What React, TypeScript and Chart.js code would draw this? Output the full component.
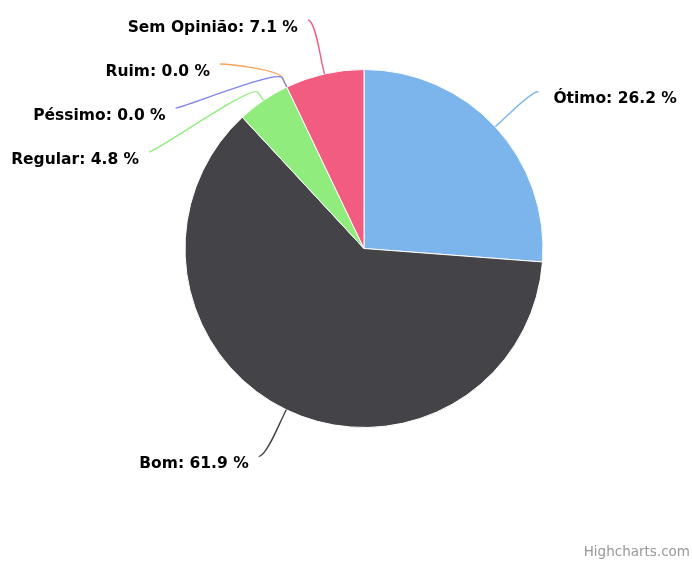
import React, { useEffect, useRef } from "react";
import { Chart, registerables } from "chart.js";

Chart.register(...registerables);

// ---- data ----
const categories = ["Ótimo", "Bom", "Regular", "Ruim", "Péssimo", "Sem Opinião"];
const percentValues = [26.2, 61.9, 4.8, 0.0, 0.0, 7.1];
const sliceColors = ["#7cb5ec", "#434348", "#90ed7d", "#f7a35c", "#8085e9", "#f15c80"];
const creditText = "Highcharts.com";

// ---- label layout settings ----
const LABEL_DISTANCE = 52;
const LABEL_PADDING = 5;
const CONNECTOR_OFFSET = 10;
const SOFT_CONTROL = 7;
const LABEL_SPACING = 44;
const LABEL_TOP = 20;
const LABEL_FONT_SIZE = 15.5;
const LABEL_FONT = `bold ${LABEL_FONT_SIZE}px "DejaVu Sans"`;

function distribute(targets: number[], gap: number, minY: number, maxY: number): number[] {
  type Cl = { first: number; n: number; sum: number };
  const clusters: Cl[] = targets.map((t, i) => ({ first: i, n: 1, sum: t }));
  const pos = (c: Cl) => Math.min(Math.max(c.sum / c.n, minY), maxY - (c.n - 1) * gap);
  let merged = true;
  while (merged) {
    merged = false;
    for (let k = 0; k < clusters.length - 1; k++) {
      const a = clusters[k];
      const b = clusters[k + 1];
      if (pos(a) + a.n * gap > pos(b)) {
        a.sum = a.sum + b.sum - b.n * a.n * gap;
        a.n += b.n;
        clusters.splice(k + 1, 1);
        merged = true;
        break;
      }
    }
  }
  const out: number[] = [];
  clusters.forEach((c) => {
    const p = pos(c);
    for (let j = 0; j < c.n; j++) out.push(p + j * gap);
  });
  return out;
}

const pieLabelsPlugin = {
  id: "pieLabels",
  afterDatasetsDraw(chart: any) {
    const ctx = chart.ctx as CanvasRenderingContext2D;
    const meta = chart.getDatasetMeta(0);
    const items = meta.data.map((arc: any, i: number) => {
      const p = arc.getProps(["x", "y", "startAngle", "endAngle", "outerRadius"], true);
      const mid = (p.startAngle + p.endAngle) / 2;
      const cos = Math.cos(mid);
      const sin = Math.sin(mid);
      const ld = p.outerRadius + LABEL_DISTANCE;
      return {
        i,
        cx: p.x,
        cy: p.y,
        r: p.outerRadius,
        cos,
        sin,
        left: cos < 0,
        ld,
        naturalY: p.y + ld * sin,
        y: 0,
      };
    });

    for (const side of [true, false]) {
      const group = items
        .filter((it: any) => it.left === side)
        .sort((a: any, b: any) => a.naturalY - b.naturalY || a.i - b.i);
      const ys = distribute(
        group.map((g: any) => g.naturalY),
        LABEL_SPACING,
        LABEL_TOP,
        chart.height - LABEL_TOP
      );
      group.forEach((g: any, k: number) => (g.y = ys[k]));
    }

    ctx.save();
    items.forEach((it: any) => {
      const yForX = it.y <= LABEL_TOP + 1 ? it.naturalY : it.y;
      const s = Math.max(-1, Math.min(1, (yForX - it.cy) / it.ld));
      const dx = Math.cos(Math.asin(s)) * it.ld + LABEL_PADDING;
      const endX = it.cx + (it.left ? -dx : dx);
      const endY = it.y;
      const touchX = it.cx + it.r * it.cos;
      const touchY = it.cy + it.r * it.sin;
      const breakX = it.cx + (it.r + CONNECTOR_OFFSET) * it.cos;
      const breakY = it.cy + (it.r + CONNECTOR_OFFSET) * it.sin;

      ctx.beginPath();
      ctx.moveTo(endX, endY);
      ctx.bezierCurveTo(
        endX + (it.left ? SOFT_CONTROL : -SOFT_CONTROL),
        endY,
        2 * breakX - touchX,
        2 * breakY - touchY,
        breakX,
        breakY
      );
      ctx.lineTo(touchX, touchY);
      ctx.strokeStyle = sliceColors[it.i];
      ctx.lineWidth = 1.4;
      ctx.stroke();

      const label = `${categories[it.i]}: ${percentValues[it.i].toFixed(1)} %`;
      ctx.font = LABEL_FONT;
      ctx.fillStyle = "#000000";
      ctx.textBaseline = "alphabetic";
      ctx.textAlign = it.left ? "right" : "left";
      const tx = it.left ? endX - 10 : endX + 15;
      const ty = endY + 6 + 0.36 * LABEL_FONT_SIZE;
      ctx.fillText(label, tx, ty);
    });

    // credits
    ctx.font = '13.5px "DejaVu Sans"';
    ctx.fillStyle = "#999999";
    ctx.textAlign = "right";
    ctx.textBaseline = "alphabetic";
    ctx.fillText(creditText, chart.width - 2, chart.height - 6);
    ctx.restore();
  },
};

export default function App() {
  const canvasRef = useRef<HTMLCanvasElement | null>(null);

  useEffect(() => {
    if (!canvasRef.current) return;
    const chart = new Chart(canvasRef.current, {
      type: "pie",
      data: {
        labels: categories,
        datasets: [
          {
            data: percentValues,
            backgroundColor: sliceColors,
            borderColor: "#ffffff",
            borderWidth: 1,
            hoverOffset: 0,
            radius: 179,
          } as any,
        ],
      },
      options: {
        animation: false,
        responsive: true,
        maintainAspectRatio: false,
        events: [],
        layout: { padding: { left: 185, right: 149, top: 69.5, bottom: 134.5 } },
        plugins: {
          legend: { display: false },
          tooltip: { enabled: false },
          title: { display: false },
        },
      },
      plugins: [pieLabelsPlugin],
    });
    return () => chart.destroy();
  }, []);

  return (
    <div
      style={{
        position: "absolute",
        left: 0,
        top: 0,
        width: 692,
        height: 562,
        background: "#ffffff",
      }}
    >
      <canvas ref={canvasRef} />
    </div>
  );
}
